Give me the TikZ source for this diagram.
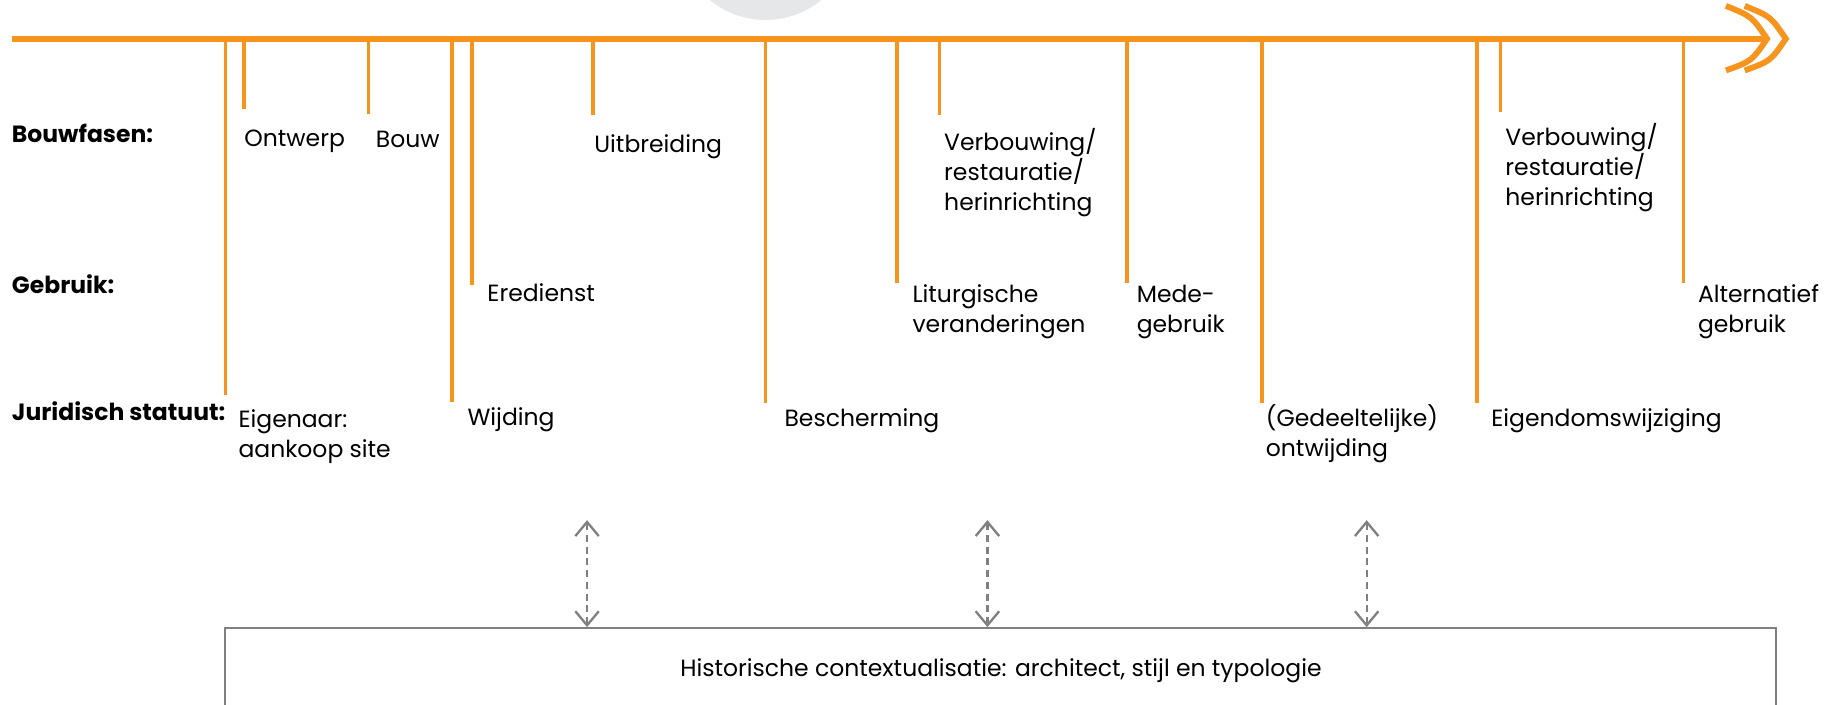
\documentclass[tikz,border=0pt]{standalone}
\usepackage{fontspec}
\setmainfont{Poppins}
\usetikzlibrary{arrows.meta}
\usetikzlibrary{positioning}
\definecolor{tlorange}{RGB}{247,148,29}
\definecolor{tlgrey}{RGB}{128,128,128}
\definecolor{discgrey}{RGB}{230,231,232}

\begin{document}
\begin{tikzpicture}[
	x=1pt, y=-1pt,
  every node/.style={font=\fontsize{20}{25.6}\selectfont},
  lbl/.style = {inner sep=0pt, anchor=base west, align=left},
  rowlbl/.style = {lbl, font=\fontsize{20}{25.6}\selectfont\bfseries},
  event/.style = {draw=tlorange, line width=3pt},
  link/.style = {draw=tlgrey, line width=2pt, dash pattern=on 6pt off 4pt,
    {Straight Barb[length=12pt,width=20pt]}-{Straight Barb[length=12pt,width=20pt]}}
  ]
	\useasboundingbox (0,0) rectangle (1568,600);
	\fill[discgrey] (652,-58) circle[radius=75];

	% time axis
	\coordinate (start) at (10,33);
	\coordinate (end) at (1505,33);
	\draw[tlorange, line width=5pt] (start) -- (end);
	\draw[tlorange, line width=5pt] (1470,5) .. controls (1492,14) .. (1505,33) .. controls (1492,52) .. (1470,60);
	\draw[tlorange, line width=5pt] (1486,5) .. controls (1508,14) .. (1521,33) .. controls (1508,52) .. (1486,60);

	% row labels
	\node[rowlbl] (bouwfasen) at (10,121) {Bouwfasen:};
	\node[rowlbl] (gebruik) at (10,250) {Gebruik:};
	\node[rowlbl] (juridisch) at (10,358) {Juridisch statuut:};

	% events (base of a label = its last line)
	\coordinate (e1) at (192,336);
	\coordinate (e2) at (208,93);
	\coordinate (e3) at (314,97);
	\coordinate (e4) at (385,342);
	\coordinate (e5) at (402,243);
	\coordinate (e6) at (505,98);
	\coordinate (e7) at (652,343);
	\coordinate (e8) at (764,241);
	\coordinate (e9) at (800,98);
	\coordinate (e10) at (960,241);
	\coordinate (e11) at (1075,343);
	\coordinate (e12) at (1258,343);
	\coordinate (e13) at (1278,95);
	\coordinate (e14) at (1434,241);

	\node[lbl] (eigenaar) at (203,389.6) {Eigenaar:\\aankoop site};
	\node[lbl] (ontwerp) at (208,125) {Ontwerp};
	\node[lbl] (bouw) at (320,126) {Bouw};
	\node[lbl] (wijding) at (398,362) {Wijding};
	\node[lbl] (eredienst) at (415,257) {Eredienst};
	\node[lbl] (uitbreiding) at (506,130) {Uitbreiding};
	\node[lbl] (bescherming) at (668,363) {Bescherming};
	\node[lbl] (liturgie) at (777,283.6) {Liturgische\\veranderingen};
	\node[lbl] (verbouwing) at (804,179.2) {Verbouwing/\\restauratie/\\herinrichting};
	\node[lbl] (medegebruik) at (968,283.6) {Mede-\\gebruik};
	\node[lbl] (ontwijding) at (1078,388.6) {(Gedeeltelijke)\\ontwijding};
	\node[lbl] (eigendom) at (1270,363) {Eigendomswijziging};
	\node[lbl] (herbouwing) at (1282,175.2) {Verbouwing/\\restauratie/\\herinrichting};
	\node[lbl] (alternatief) at (1446,283.6) {Alternatief\\gebruik};

	\foreach \e in {e1,e2,e3,e4,e5,e6,e7,e8,e9,e10,e11,e12,e13,e14}
		\draw[event] (\e |- start) -- (\e);

	% context
	\node[draw=tlgrey, line width=1.7pt, minimum width=1321pt, minimum height=72pt] (context) at (852.5,571)
		{Historische contextualisatie: architect, stijl en typologie};
	\coordinate (l1) at (500,443);
	\coordinate (l2) at (841,443);
	\coordinate (l3) at (1164,443);
	\draw[link] (l1) -- (l1 |- context.north);
	\draw[link] (l2) -- (l2 |- context.north);
	\draw[link] (l3) -- (l3 |- context.north);

\end{tikzpicture}
\end{document}
